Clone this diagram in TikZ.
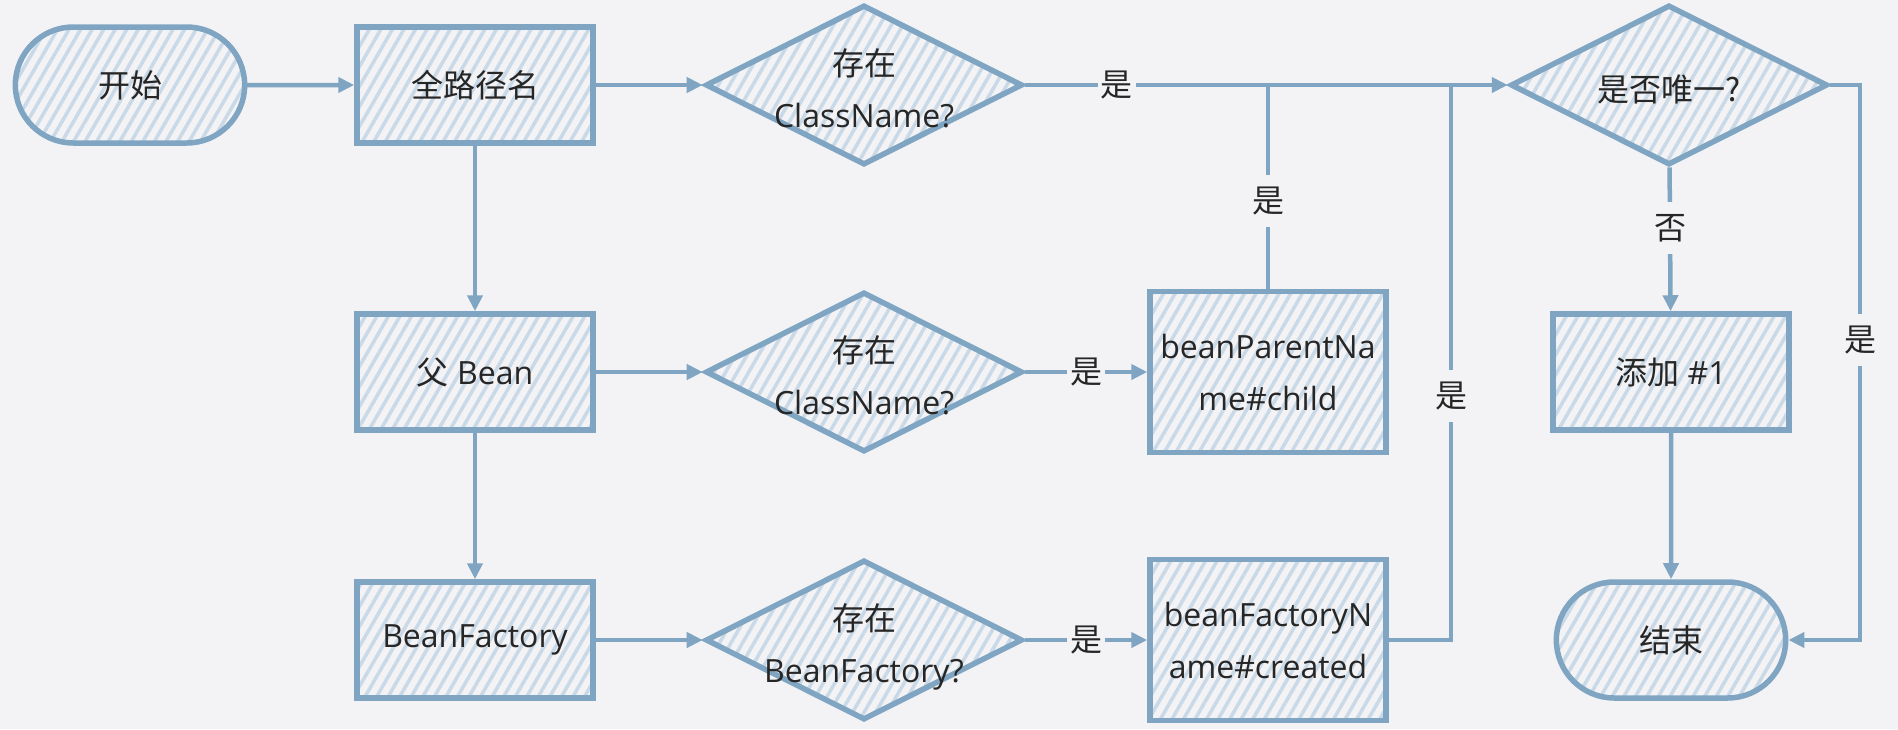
\documentclass[tikz,border=0pt]{standalone}
\usepackage{fontspec}
\setmainfont{Open Sans}
\newfontfamily\cjk{Noto Sans CJK SC}
\usetikzlibrary{shapes.geometric,shapes.misc,arrows.meta,patterns.meta}
\definecolor{bg}{HTML}{F3F3F5}
\definecolor{edge}{HTML}{80A5C3}
\definecolor{hatch}{HTML}{C9D9E7}
\definecolor{ink}{HTML}{262626}
\newcommand{\dtext}[1]{\makebox[0pt]{\raisebox{-12pt}[0pt][0pt]{\begin{tabular}{@{}c@{}}#1\end{tabular}}}}
\begin{document}
\begin{tikzpicture}[x=1pt,y=-1pt,
  every node/.style={font=\fontsize{32}{52}\selectfont, text=ink},
  hatched/.style={draw=edge, line width=5.5pt, pattern={Lines[angle=60,distance=10pt,line width=3.5pt]}, pattern color=hatch},
  terminal/.style={hatched, rounded rectangle, minimum width=236pt, minimum height=116pt},
  process/.style={hatched, rectangle, minimum width=236pt, minimum height=116pt, align=center},
  decision/.style={hatched, diamond, minimum width=317pt, minimum height=160pt, inner sep=0pt},
  flow/.style={draw=edge, line width=4.5pt, -{Triangle[length=16pt,width=15pt]}},
  link/.style={draw=edge, line width=4.5pt},
  yes/.style={fill=bg, inner xsep=3pt, inner ysep=12pt, font=\cjk\fontsize{32}{52}\selectfont}]
\fill[bg] (0,0) rectangle (1898,729);

\node[terminal] (start) at (130,85) {{\cjk 开始}};
\node[process] (fullname) at (475,85) {{\cjk 全路径名}};
\node[decision] (chkcls) at (864,85) {\dtext{{\cjk 存在}\\ClassName?}};
\node[decision] (unique) at (1669,85) {\dtext{{\cjk 是否唯一?}}};

\node[process] (parent) at (475,372) {{\cjk 父} Bean};
\node[decision] (chkpar) at (864,372) {\dtext{{\cjk 存在}\\ClassName?}};
\node[process, minimum height=161pt] (pname) at (1268,372) {beanParentNa\\me\#child};
\node[process] (add) at (1671,372) {{\cjk 添加} \#1};

\node[process] (factory) at (475,640) {BeanFactory};
\node[decision] (chkfac) at (864,640) {\dtext{{\cjk 存在}\\BeanFactory?}};
\node[process, minimum height=161pt] (fname) at (1268,640) {beanFactoryN\\ame\#created};
\node[terminal] (end) at (1671,640) {{\cjk 结束}};

\coordinate (jpar) at (pname.north |- chkcls.east);
\coordinate (jfac) at (1451,85);
\coordinate (rtop) at (1860,85);
\coordinate (rbot) at (rtop |- end.east);

\draw[flow] (start) -- (fullname);
\draw[flow] (fullname) -- (chkcls);
\draw[flow] (chkcls) -- node[yes,pos=0.19]{是} (unique);
\draw[flow] (fullname) -- (parent);
\draw[flow] (parent) -- (chkpar);
\draw[flow] (chkpar) -- node[yes]{是} (pname);
\draw[link] (pname) -- node[yes,pos=0.43]{是} (jpar);
\draw[flow] (parent) -- (factory);
\draw[flow] (factory) -- (chkfac);
\draw[flow] (chkfac) -- node[yes]{是} (fname);
\draw[link] (fname.east) -| node[yes,pos=0.72]{是} (jfac);
\draw[flow] (unique) -- node[yes,pos=0.42]{否} (add);
\draw[flow] (add) -- (end);
\draw[flow] (unique.east) -- (rtop) -- node[yes,pos=0.46]{是} (rbot) -- (end.east);
\end{tikzpicture}
\end{document}
